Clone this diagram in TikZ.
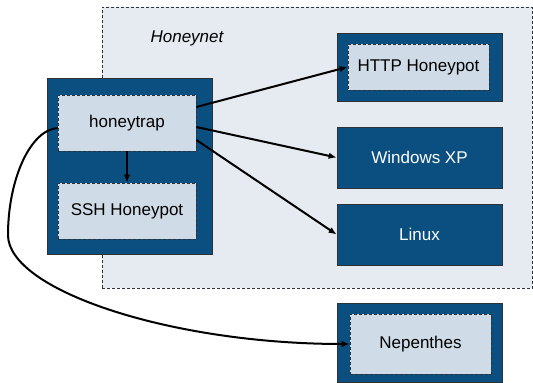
\documentclass[tikz,border=0pt]{standalone}
\usepackage{fontspec}
\setmainfont{Liberation Sans}
\usetikzlibrary{arrows.meta}
\definecolor{darkblue}{RGB}{11,79,128}
\definecolor{lightbox}{RGB}{207,219,230}
\definecolor{netbg}{RGB}{230,235,242}
\definecolor{edgegray}{RGB}{45,50,55}
\tikzset{
  netarea/.style={draw=edgegray, dash pattern=on 3pt off 2pt, fill=netbg, line width=0.7pt, inner sep=0pt},
  outerbox/.style={draw=edgegray, fill=darkblue, line width=0.7pt, inner sep=0pt, text=white,
    font=\fontsize{17}{20}\selectfont},
  innerbox/.style={draw=edgegray, dash pattern=on 3pt off 2pt, fill=lightbox, line width=0.8pt, inner sep=0pt, text=black,
    font=\fontsize{17}{20}\selectfont},
  arr/.style={-{Latex[length=8pt,width=6.5pt]}, line width=2pt, black},
}
\begin{document}
\begin{tikzpicture}[x=1pt,y=-1pt]
\useasboundingbox (0,0) rectangle (533,383);
\node[netarea, minimum width=430.5pt, minimum height=281pt] (net) at (317.25,147.5) {};
\node[font=\fontsize{17}{20}\selectfont\itshape] (netlabel) at (187,38) {Honeynet};
% honeytrap group
\node[outerbox, minimum width=165pt, minimum height=176pt] (htg) at (129.5,166) {};
\node[innerbox, minimum width=138pt, minimum height=56pt] (ht) at (127,123) {honeytrap};
\node[innerbox, minimum width=138pt, minimum height=56pt] (ssh) at (127,211) {SSH Honeypot};
% right side
\node[outerbox, minimum width=165pt, minimum height=68pt] (httpg) at (419.5,67) {};
\node[innerbox, minimum width=141pt, minimum height=46pt] (http) at (418.5,67) {HTTP Honeypot};
\node[outerbox, minimum width=165pt, minimum height=61pt] (win) at (419.5,157.5) {Windows XP};
\node[outerbox, minimum width=165pt, minimum height=61pt] (lin) at (419.5,234.5) {Linux};
\node[outerbox, minimum width=165pt, minimum height=79pt] (nepg) at (419.5,342.5) {};
\node[innerbox, minimum width=141pt, minimum height=60pt] (nep) at (420.5,344) {Nepenthes};
% connectors
\draw[arr] ([yshift=16pt]ht.east) -- (http.west);
\draw[arr] ([yshift=-4pt]ht.east) -- (win.west);
\draw[arr] ([yshift=-17pt]ht.east) -- (lin.west);
\draw[arr] (ht.south) -- (ssh.north);
\coordinate (bend) at (8,235);
\draw[arr] ([yshift=-5pt]ht.west) .. controls (30,130) and (8,180) .. (bend)
  .. controls (8,290) and (170,344) .. (nep.west);
\end{tikzpicture}
\end{document}
